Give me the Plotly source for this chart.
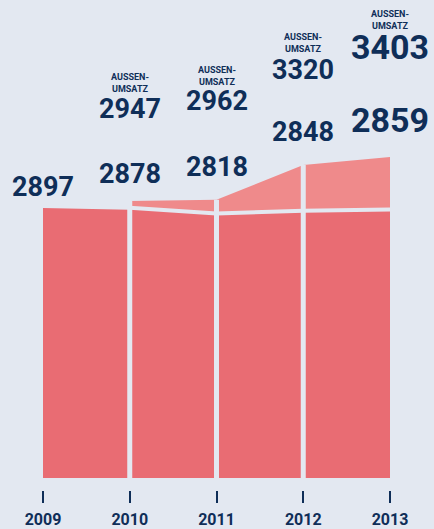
import plotly.graph_objects as go

# ---- data ----
years = [2009, 2010, 2011, 2012, 2013]
umsatz = [2897, 2878, 2818, 2848, 2859]
aussen_years = [2010, 2011, 2012, 2013]
aussenumsatz = [2947, 2962, 3320, 3403]
tick_labels = ["2009", "2010", "2011", "2012", "2013"]
aussen_label = "AUSSEN-<br>UMSATZ"

# ---- style / layout ----
BG = "#e3e8f1"
RED = "#e96c73"
PINK = "#ef8a8b"
NAVY = "#0f2e58"
FONT = "Roboto"
W, H = 434, 529
MB = 39
PLOT_H = H - MB
Y_RANGE = [78, 5031]
X_RANGE = [2008.5043, 2013.5072]

low_label_px = [187, 174, 167, 132, 119.5]
low_label_size = [27, 27, 27, 27, 34]
up_label_px = [109, 101, 70, 47.5]
up_label_size = [27, 27, 27, 34]
aussen_px = [83, 76.5, 43, 20.5]

fig = go.Figure()

# lower area (Umsatz)
fig.add_trace(go.Scatter(x=years, y=umsatz, mode="lines", line=dict(width=0, color=RED),
                         fill="tozeroy", fillcolor=RED, hoverinfo="skip"))
# base for upper area
fig.add_trace(go.Scatter(x=aussen_years, y=umsatz[1:], mode="lines",
                         line=dict(width=0, color=PINK), hoverinfo="skip"))
# upper area (Aussenumsatz)
fig.add_trace(go.Scatter(x=aussen_years, y=aussenumsatz, mode="lines",
                         line=dict(width=0, color=PINK), fill="tonexty",
                         fillcolor=PINK, hoverinfo="skip"))
# horizontal gap between the two areas
fig.add_trace(go.Scatter(x=years, y=umsatz, mode="lines",
                         line=dict(width=4, color=BG), hoverinfo="skip"))
# vertical gaps between years
for yr, top in zip(aussen_years[:-1], aussenumsatz[:-1]):
    fig.add_trace(go.Scatter(x=[yr, yr], y=[Y_RANGE[0], top], mode="lines",
                             line=dict(width=5, color=BG), hoverinfo="skip"))

def py(px):
    return 1 - px / PLOT_H

ann = []
for yr, v, p, s in zip(years, umsatz, low_label_px, low_label_size):
    ann.append(dict(x=yr, xref="x", y=py(p), yref="paper", text=str(v), showarrow=False,
                    xanchor="center", yanchor="middle", borderpad=0,
                    font=dict(family=FONT, size=s, color=NAVY, weight="bold")))
for yr, v, p, s, a in zip(aussen_years, aussenumsatz, up_label_px, up_label_size, aussen_px):
    ann.append(dict(x=yr, xref="x", y=py(p), yref="paper", text=str(v), showarrow=False,
                    xanchor="center", yanchor="middle", borderpad=0,
                    font=dict(family=FONT, size=s, color=NAVY, weight="bold")))
    ann.append(dict(x=yr, xref="x", y=py(a), yref="paper", text=aussen_label, showarrow=False,
                    xanchor="center", yanchor="middle", align="center", borderpad=0,
                    font=dict(family=FONT, size=9, color=NAVY, weight="bold")))

fig.update_layout(
    width=W, height=H,
    margin=dict(l=0, r=0, t=0, b=MB),
    paper_bgcolor=BG, plot_bgcolor=BG,
    showlegend=False,
    annotations=ann,
    xaxis=dict(range=X_RANGE, tickvals=years, ticktext=tick_labels,
               ticks="outside", ticklen=12, tickwidth=2, tickcolor=NAVY,
               ticklabelstandoff=3,
               tickfont=dict(family=FONT, size=16, color=NAVY, weight="bold"),
               showgrid=False, zeroline=False, showline=False,
               anchor="free", position=0, fixedrange=True),
    yaxis=dict(range=Y_RANGE, domain=[12 / PLOT_H, 1], visible=False,
               showgrid=False, zeroline=False, fixedrange=True),
)

fig.write_html("out.html", config={"displayModeBar": False},
               post_script="document.body.style.margin='0';document.body.style.overflow='hidden';")
